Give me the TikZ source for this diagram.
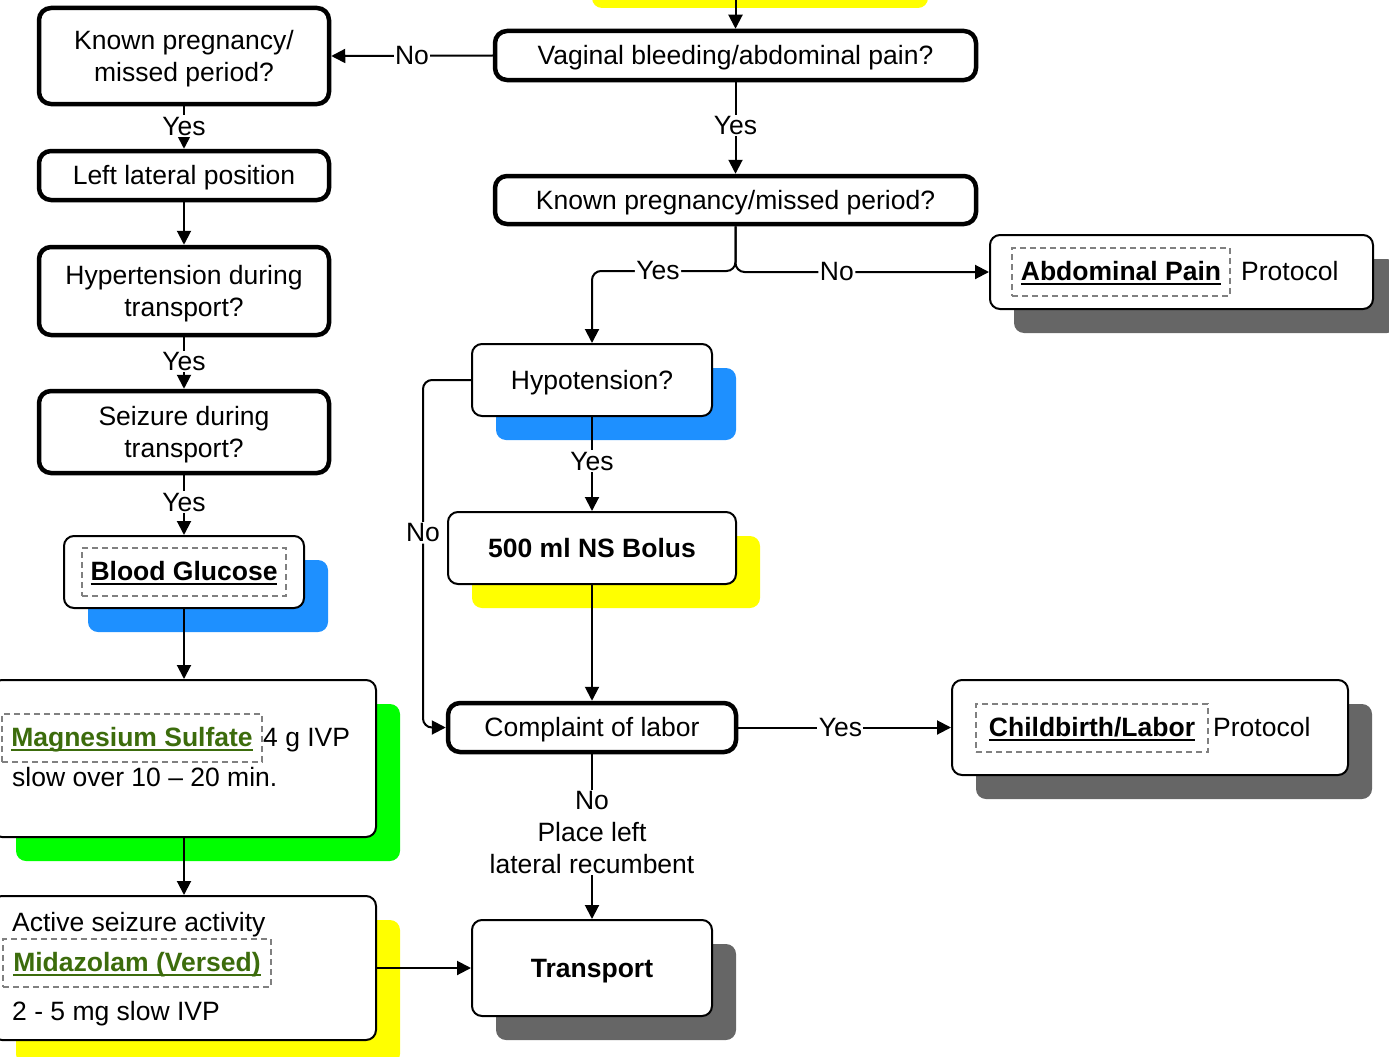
\documentclass[tikz,border=0pt]{standalone}
\usepackage{fontspec}
\setmainfont{Liberation Sans}
\usetikzlibrary{arrows.meta,shadows}
\definecolor{shBlue}{RGB}{30,144,255}
\definecolor{shYellow}{RGB}{255,255,0}
\definecolor{shGreen}{RGB}{0,255,0}
\definecolor{shGray}{RGB}{102,102,102}
\definecolor{linkGreen}{RGB}{60,108,12}
\definecolor{dashGray}{RGB}{128,128,128}
\newcommand\fs{\fontsize{26.5}{32}\selectfont}
% invisible strut with the font's ascent and descent
\newcommand\lineStrut{\vrule width 0pt height 0.905em depth 0.212em}
\newsavebox\lnkbox
% underlined link text
\newcommand\lnk[1]{\sbox\lnkbox{#1}\rlap{\vrule height -2pt depth 4pt width \wd\lnkbox}\usebox\lnkbox}
\tikzset{
  box/.style={draw, rounded corners=10pt, fill=white, line width=2pt, align=center, inner sep=4pt,
    execute at begin node=\lineStrut, execute at end node=\lineStrut},
  qbox/.style={box, line width=4.5pt, rounded corners=12pt},
  twoline/.style={execute at end node={\vrule width 0pt height 57pt}},
  sh/.style={drop shadow={shadow xshift=24pt, shadow yshift=-24pt, fill=#1, opacity=1}},
  dbox/.style={draw=dashGray, dash pattern=on 6pt off 4pt, line width=1.5pt,
    minimum height=48pt, text height=20pt, text depth=3pt, inner sep=0pt},
  conn/.style={line width=2pt, -{Triangle[length=14pt,width=14pt]}},
  lbl/.style={fill=white, inner sep=1.5pt},
  txt/.style={inner sep=0pt, anchor=base west},
}
\begin{document}
\begin{tikzpicture}[x=1pt, y=-1pt, font=\fs]
\useasboundingbox (0,0) rectangle (1389,1057);
\clip (0,0) rectangle (1389,1057);

% ---- left column ----
\node[qbox, twoline, minimum width=290pt, minimum height=96pt] (L1) at (184,56) {Known pregnancy/\\missed period?};
\node[qbox, minimum width=290pt, minimum height=49pt] (L2) at (184,175.5) {Left lateral position};
\node[qbox, twoline, minimum width=290pt, minimum height=88pt] (L3) at (184,291) {Hypertension during\\transport?};
\node[qbox, twoline, minimum width=290pt, minimum height=82pt] (L4) at (184,432) {Seizure during\\transport?};
\node[box, sh=shBlue, minimum width=240pt, minimum height=72pt] (L5) at (184,572) {};
\node[dbox, minimum width=204pt] (bg) at (184,572) {\lnk{\bfseries Blood Glucose}};
\node[box, sh=shGreen, minimum width=384pt, minimum height=157pt] (L6) at (184,758.5) {};
\node[dbox, minimum width=260pt, text=linkGreen] (mg) at (132,738) {\lnk{\bfseries Magnesium Sulfate}};
\node[txt] (mgdose) at (263,746.5) {4 g IVP};
\node[txt] (mgrate) at (12,786.5) {slow over 10 – 20 min.};
\node[box, sh=shYellow, minimum width=384pt, minimum height=144pt] (L7) at (184,968) {};
\node[txt] (act) at (12,931.5) {Active seizure activity};
\node[dbox, minimum width=268pt, text=linkGreen] (mdz) at (137,963) {\lnk{\bfseries Midazolam (Versed)}};
\node[txt] (mdzdose) at (12,1020.5) {2 - 5 mg slow IVP};

% ---- right column ----
\fill[shYellow, rounded corners=10pt] (592,-40) rectangle (928,8);
\coordinate (above) at (735.5,-16);
\node[qbox, minimum width=481pt, minimum height=49pt] (R1) at (735.5,55.5) {Vaginal bleeding/abdominal pain?};
\node[qbox, minimum width=481pt, minimum height=48pt] (R2) at (735.5,200) {Known pregnancy/missed period?};
\node[box, sh=shGray, minimum width=383pt, minimum height=74pt] (R3) at (1181.5,272) {};
\node[dbox, minimum width=218pt] (ap) at (1121,272) {\lnk{\bfseries Abdominal Pain}};
\node[txt] (apx) at (1241,280.5) {Protocol};
\node[box, sh=shBlue, minimum width=240pt, minimum height=72pt] (R4) at (592,380) {Hypotension?};
\node[box, sh=shYellow, minimum width=288pt, minimum height=72pt, font=\fs\bfseries] (R5) at (592,548) {500 ml NS Bolus};
\node[qbox, minimum width=288pt, minimum height=49pt] (R6) at (592,727.5) {Complaint of labor};
\node[box, sh=shGray, minimum width=396pt, minimum height=95pt] (R7) at (1150,727.5) {};
\node[dbox, minimum width=232pt] (cl) at (1092,728) {\lnk{\bfseries Childbirth/Labor}};
\node[txt] (clx) at (1213,736.5) {Protocol};
\node[box, sh=shGray, minimum width=240pt, minimum height=96pt, font=\fs\bfseries] (R8) at (592,968) {Transport};

% ---- connectors ----
\coordinate (split) at (735.5,271);
\draw[conn] (above) -- (R1.north);
\draw[conn] (R1.west) -- node[lbl]{No} (L1.east);
\draw[conn] (R1.south) -- node[lbl, pos=0.47]{Yes} (R2.north);
\draw[conn, rounded corners=9pt] (R2.south) |- (R4.north |- split) node[lbl, pos=0.77]{Yes} -- (R4.north);
\draw[conn, rounded corners=9pt] (R2.south) |- node[lbl, pos=0.70]{No} (R3.west);
\draw[conn] (R4.south) -- node[lbl, pos=0.47]{Yes} (R5.north);
\draw[conn, rounded corners=9pt] (R4.west) -- ++(-48,0) |- node[lbl, pos=0.22]{No} (R6.west);
\draw[conn] (R5.south) -- (R6.north);
\draw[conn] (R6.east) -- node[lbl, pos=0.48]{Yes} (R7.west);
\draw[conn] (R6.south) -- node[lbl, align=center, pos=0.476]{No\\Place left\\lateral recumbent} (R8.north);
\draw[conn] (L7.east) -- (R8.west);

\draw[conn] (L1.south) -- node[lbl, pos=0.47]{Yes} (L2.north);
\draw[conn] (L2.south) -- (L3.north);
\draw[conn] (L3.south) -- node[lbl, pos=0.47]{Yes} (L4.north);
\draw[conn] (L4.south) -- node[lbl, pos=0.45]{Yes} (L5.north);
\draw[conn] (L5.south) -- (L6.north);
\draw[conn] (L6.south) -- (L7.north);
\end{tikzpicture}
\end{document}
